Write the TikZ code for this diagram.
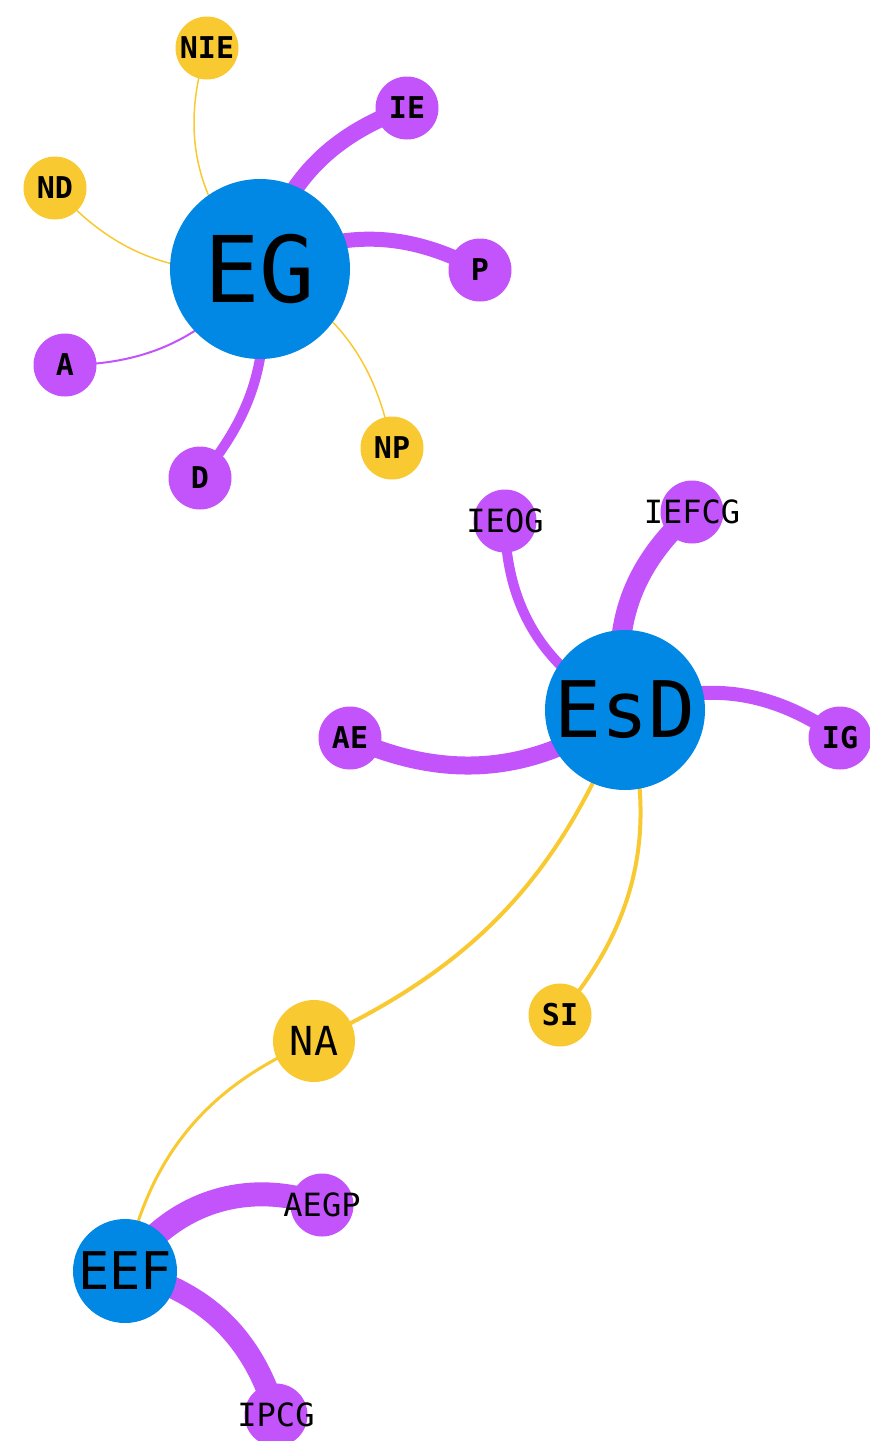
\documentclass[tikz,border=0pt]{standalone}
\usepackage{fontspec}
\setmonofont{DejaVu Sans Mono}
\usetikzlibrary{backgrounds}

\definecolor{hubblue}{HTML}{0088E4}
\definecolor{leafpurple}{HTML}{C353FA}
\definecolor{leafyellow}{HTML}{F9C931}

\newcommand{\nodetext}[1]{\makebox[0pt]{#1}}

\tikzset{
  hub/.style={circle, fill=hubblue, inner sep=0pt, font=\ttfamily},
  leaf/.style={circle, inner sep=0pt, minimum size=63pt,
    font=\ttfamily\bfseries\fontsize{30}{30}\selectfont},
  pleaf/.style={leaf, fill=leafpurple},
  yleaf/.style={leaf, fill=leafyellow},
  longleaf/.style={pleaf, font=\ttfamily\fontsize{32}{32}\selectfont},
  plink/.style={draw=leafpurple, line width=#1},
  ylink/.style={draw=leafyellow, line width=#1},
}

\begin{document}
\begin{tikzpicture}[x=1pt, y=-1pt]
      \useasboundingbox (0,0) rectangle (870,1441);

      % hubs
      \node[hub, minimum size=180pt, font=\ttfamily\fontsize{92}{92}\selectfont] (EG) at (260, 269) {\nodetext{EG}};
      \node[hub, minimum size=160pt, font=\ttfamily\fontsize{78}{78}\selectfont] (EsD) at (625, 710) {\nodetext{EsD}};
      \node[hub, minimum size=104pt, font=\ttfamily\fontsize{52}{52}\selectfont] (EEF) at (125, 1271) {\nodetext{EEF}};

      % around EG
      \node[yleaf] (NIE) at (207, 48) {NIE};
      \node[pleaf] (IE) at (407, 108) {IE};
      \node[yleaf] (ND) at (55, 188) {ND};
      \node[pleaf] (P) at (480, 270) {P};
      \node[pleaf] (A) at (65, 365) {A};
      \node[yleaf] (NP) at (392, 448) {NP};
      \node[pleaf] (D) at (200, 478) {D};

      % around EsD
      \node[longleaf] (IEOG) at (505, 521) {\nodetext{IEOG}};
      \node[longleaf] (IEFCG) at (692, 512) {\nodetext{IEFCG}};
      \node[pleaf] (AE) at (350, 738) {AE};
      \node[pleaf] (IG) at (840, 738) {IG};
      \node[yleaf] (SI) at (560, 1015) {SI};
      \node[yleaf, minimum size=82pt, font=\ttfamily\fontsize{40}{40}\selectfont] (NA) at (314, 1041) {NA};

      % around EEF
      \node[longleaf] (AEGP) at (322, 1205) {\nodetext{AEGP}};
      \node[longleaf] (IPCG) at (276, 1415) {\nodetext{IPCG}};

      \begin{scope}[on background layer]
        \draw[plink=17] (EG.center) to[bend left=28] (IE.center);
        \draw[plink=15] (EG.center) to[bend left=28] (P.center);
        \draw[plink=10] (EG.center) to[bend left=24] (D.center);
        \draw[plink=2] (EG.center) to[bend left=26] (A.center);
        \draw[ylink=1.5] (EG.center) to[bend left=27] (ND.center);
        \draw[ylink=1.5] (EG.center) to[bend left=32] (NIE.center);
        \draw[ylink=1.5] (EG.center) to[bend left=26] (NP.center);

        \draw[plink=20] (EsD.center) to[bend left=30] (IEFCG.center);
        \draw[plink=10] (EsD.center) to[bend left=32] (IEOG.center);
        \draw[plink=18] (EsD.center) to[bend left=30] (AE.center);
        \draw[plink=14] (EsD.center) to[bend left=28] (IG.center);
        \draw[ylink=4] (EsD.center) to[bend left=28] (SI.center);
        \draw[ylink=4] (EsD.center) to[bend left=22] (NA.center);

        \draw[ylink=3] (EEF.center) to[bend left=28] (NA.center);
        \draw[plink=24] (EEF.center) to[bend left=38] (AEGP.center);
        \draw[plink=22] (EEF.center) to[bend left=30] (IPCG.center);
      \end{scope}
    \end{tikzpicture}
\end{document}
